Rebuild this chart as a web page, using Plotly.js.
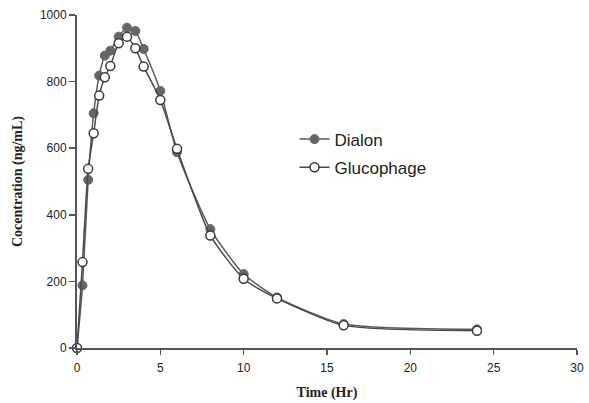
<!DOCTYPE html>
<html>
<head>
<meta charset="utf-8">
<script src="https://cdn.plot.ly/plotly-3.0.1.min.js"></script>
<style>html,body{margin:0;padding:0;background:#fff;}#chart{width:589px;height:403px;}</style>
</head>
<body>
<div id="chart"></div>
<script>
const time = [0, 0.33, 0.67, 1, 1.33, 1.67, 2, 2.5, 3, 3.5, 4, 5, 6, 8, 10, 12, 16, 24];
const dialon = [0, 188, 505, 705, 818, 878, 893, 935, 962, 952, 898, 772, 588, 357, 222, 152, 72, 56];
const glucophage = [0, 258, 538, 645, 758, 813, 847, 915, 935, 900, 845, 745, 598, 338, 208, 149, 68, 52];
const xTicks = [0, 5, 10, 15, 20, 25, 30];
const yTicks = [0, 200, 400, 600, 800, 1000];

const traces = [
  {
    x: time, y: dialon, name: 'Dialon', type: 'scatter', mode: 'lines+markers', legendgroup: 'a',
    line: {color: '#5a5a5a', width: 1.5, shape: 'spline', smoothing: 0.6},
    marker: {size: 9, color: '#666666', line: {color: '#666666', width: 1}},
    cliponaxis: false
  },
  {
    x: time, y: glucophage, name: 'Glucophage', type: 'scatter', mode: 'lines+markers', legendgroup: 'b',
    line: {color: '#4a4a4a', width: 1.5, shape: 'spline', smoothing: 0.6},
    marker: {size: 9, color: '#ffffff', line: {color: '#3a3a3a', width: 1.5}},
    cliponaxis: false
  }
];

const layout = {
  width: 589, height: 403,
  margin: {l: 77, r: 12, t: 15, b: 55},
  paper_bgcolor: '#fff', plot_bgcolor: '#fff',
  showlegend: true,
  legend: {x: 0.435, y: 0.68, xanchor: 'left', yanchor: 'top', bgcolor: 'rgba(0,0,0,0)',
           traceorder: 'grouped',
           font: {family: 'Liberation Sans, Arial, sans-serif', size: 17, color: '#222'},
           tracegroupgap: 3, itemwidth: 30},
  xaxis: {
    range: [0, 30], tickvals: xTicks, ticktext: xTicks.map(String),
    showgrid: false, zeroline: false, showline: true, linecolor: '#555', linewidth: 2,
    ticks: 'outside', ticklen: 5, tickcolor: '#555', tickwidth: 1.5, ticklabelstandoff: 3,
    tickfont: {family: 'Liberation Sans, Arial, sans-serif', size: 12, color: '#222'},
    title: {text: 'Time (Hr)', standoff: 13, font: {family: 'Liberation Serif, Times New Roman, serif', size: 14, color: '#222', weight: 'bold'}}
  },
  yaxis: {
    range: [0, 1000], tickvals: yTicks, ticktext: yTicks.map(String),
    showgrid: false, zeroline: false, showline: true, linecolor: '#555', linewidth: 2,
    ticks: 'outside', ticklen: 6, tickcolor: '#555', tickwidth: 1.5,
    tickfont: {family: 'Liberation Sans, Arial, sans-serif', size: 12, color: '#222'},
    title: {text: 'Cocentration (ng/mL)', standoff: 14, font: {family: 'Liberation Serif, Times New Roman, serif', size: 14, color: '#222', weight: 'bold'}}
  }
};

Plotly.newPlot('chart', traces, layout, {staticPlot: true, displayModeBar: false});
</script>
</body>
</html>
